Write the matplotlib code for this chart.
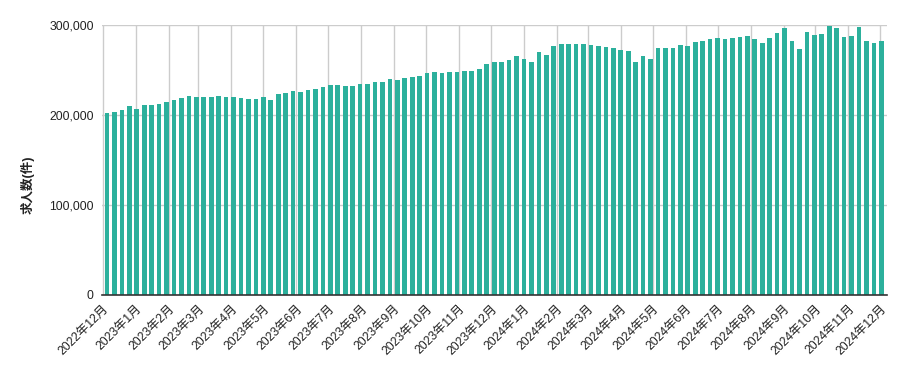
import matplotlib
matplotlib.use('agg')
import matplotlib.pyplot as plt
import matplotlib.dates as mdates
import pandas as pd

plt.rcParams['font.family'] = ['Liberation Sans', 'Noto Sans CJK JP', 'DejaVu Sans']

# weekly job counts (件), Mondays from 2022-12-05 to 2024-12-02
values = [
    202000, 203500, 205400, 210100, 206500, 211300, 211300, 212400, 214600, 216800,
    219100, 221300, 220200, 220200, 220200, 221300, 220200, 220200, 219100, 217900,
    217900, 220200, 216800, 223500, 224600, 226900, 225800, 227600, 228800, 231000,
    233200, 233200, 232100, 232100, 234300, 234300, 236600, 236600, 239900, 238800,
    241000, 242100, 243300, 246600, 247700, 246600, 247700, 247700, 248800, 248800,
    251100, 256600, 258900, 258900, 261100, 265600, 262200, 258900, 270000, 266700,
    276700, 278900, 278900, 278900, 278900, 277800, 276700, 275600, 274500, 272200,
    271100, 258900, 265600, 262200, 274500, 274500, 274500, 277800, 276700, 281200,
    282300, 284500, 285600, 284500, 285600, 286700, 287800, 284500, 280000, 285600,
    291200, 296800, 282300, 273400, 292300, 289000, 290100, 299000, 296800, 286700,
    287800, 297900, 282300, 280000, 282300,
]
weeks = pd.date_range("2022-12-05", periods=len(values), freq="7D")
months = pd.date_range("2022-12-01", "2024-12-01", freq="MS")
month_labels = [f"{d.year}年{d.month}月" for d in months]
yticks = [0, 100000, 200000, 300000]

fig = plt.figure(figsize=(9.05, 3.71), dpi=100)
ax = fig.add_axes([102 / 905, 1 - 294.5 / 371, (886.7 - 102) / 905, (294.5 - 25.3) / 371])

ax.bar(weeks, values, width=4.4, color='#2cb09c', zorder=3)

ax.set_xlim(pd.Timestamp("2022-11-30 08:00"), pd.Timestamp("2024-12-07"))
ax.set_ylim(0, 300000)
ax.set_xticks(months)
ax.set_xticklabels(month_labels, rotation=45, ha='right', rotation_mode='anchor',
                   fontsize=8.8, color='#222222')
ax.set_yticks(yticks)
ax.set_yticklabels([f"{v:,}" for v in yticks], fontsize=8.8, color='#222222')
ax.tick_params(axis='both', length=0)
ax.tick_params(axis='y', pad=6)
ax.tick_params(axis='x', pad=6)

ax.grid(True, color='#cccccc', linewidth=1, zorder=0)
for side in ['top', 'right', 'left']:
    ax.spines[side].set_visible(False)
ax.spines['bottom'].set_color('#333333')
ax.spines['bottom'].set_linewidth(1.2)
ax.spines['bottom'].set_zorder(4)

fig.text(28 / 905, 1 - 185 / 371, "求人数(件)", rotation=90, ha='center', va='center',
         fontsize=9, fontweight='bold', color='#222222')

fig.savefig('out.png', dpi=100)
plt.close(fig)
